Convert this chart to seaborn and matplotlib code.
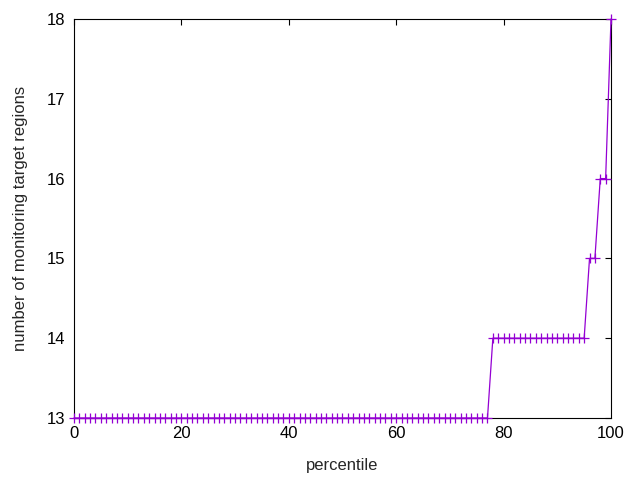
import numpy as np
import pandas as pd
import seaborn as sns
import matplotlib
matplotlib.use("Agg")
import matplotlib.pyplot as plt

# percentile values 0..100 and number of regions at each
percentile = list(range(0, 101))
regions = [13] * 78 + [14] * 18 + [15] * 2 + [16] * 2 + [18]

df = pd.DataFrame({"percentile": percentile, "regions": regions})

sns.set_style("white")
plt.rcParams["font.family"] = ["Liberation Sans", "DejaVu Sans"]

fig = plt.figure(figsize=(6.4, 4.8), dpi=100)
ax = fig.add_axes([0.1156, 0.1292, 0.8391, 0.8312])

sns.lineplot(data=df, x="percentile", y="regions", ax=ax, color="#9400d3",
             linewidth=0.9, marker="+", markersize=7, markeredgewidth=0.9,
             markeredgecolor="#9400d3", clip_on=False, zorder=3)

ax.set_xlim(0, 100)
ax.set_ylim(13, 18)
ax.set_xticks([0, 20, 40, 60, 80, 100])
ax.set_yticks([13, 14, 15, 16, 17, 18])
ax.tick_params(direction="in", top=True, right=True, length=4, width=0.8,
               labelsize=12, pad=6, colors="black")
for s in ax.spines.values():
    s.set_color("black")
    s.set_linewidth(0.8)
ax.set_xlabel("percentile", fontsize=12, labelpad=12)
ax.set_ylabel("number of monitoring target regions", fontsize=12, labelpad=14)

fig.savefig("out.png", dpi=100)
